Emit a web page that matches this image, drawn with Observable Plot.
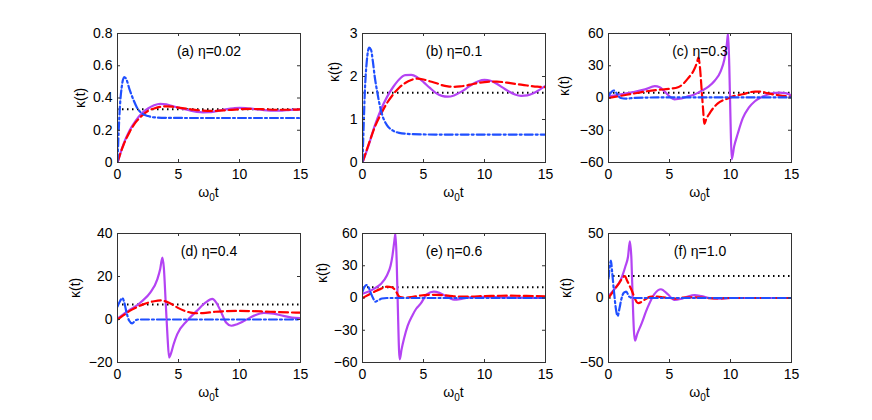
<!DOCTYPE html>
<html>
<head>
<meta charset="utf-8">
<script src="https://cdn.jsdelivr.net/npm/d3@7"></script>
<script src="https://cdn.jsdelivr.net/npm/@observablehq/plot@0.6"></script>
<style>
  html, body { margin: 0; padding: 0; background: #fff; }
  #wrap { position: relative; width: 872px; height: 420px; background: #fff; overflow: hidden; }
  #wrap > svg { position: absolute; }
</style>
</head>
<body>
<div id="wrap"></div>
<script>
// ---------- data (t = ω0 t, value = κ(t)) ----------
const xTicks = [0, 5, 10, 15];

const titles = ["(a) η=0.02", "(b) η=0.1", "(c) η=0.3", "(d) η=0.4", "(e) η=0.6", "(f) η=1.0"];
const yDomains = [[0, 0.8], [0, 3], [-60, 60], [-20, 40], [-60, 60], [-50, 50]];
const yTicksList = [
  [0, 0.2, 0.4, 0.6, 0.8],
  [0, 1, 2, 3],
  [-60, -30, 0, 30, 60],
  [-20, 0, 20, 40],
  [-60, -30, 0, 30, 60],
  [-50, 0, 50]
];
// black dotted levels
const dottedLevels = [0.33, 1.62, 5, 7, 10, 17];

// purple solid
const purpleA = [[0,0],[0.25,0.06],[0.5,0.115],[1,0.2],[1.5,0.26],[2,0.305],[2.5,0.335],[3,0.355],[3.5,0.364],[4,0.36],[4.5,0.35],[5,0.34],[5.5,0.33],[6,0.321],[6.5,0.314],[7,0.311],[7.5,0.312],[8,0.317],[8.5,0.324],[9,0.331],[9.5,0.336],[10,0.339],[10.5,0.338],[11,0.334],[11.5,0.329],[12,0.325],[12.5,0.322],[13,0.321],[13.5,0.322],[14,0.325],[14.5,0.328],[15,0.33]];
const purpleB = [[0,0],[0.5,0.4],[1,0.85],[1.5,1.22],[2,1.52],[2.5,1.75],[3,1.93],[3.5,2.03],[4,2.04],[4.5,1.98],[5,1.87],[5.5,1.74],[6,1.62],[6.5,1.55],[7,1.53],[7.5,1.56],[8,1.63],[8.5,1.72],[9,1.82],[9.5,1.89],[10,1.92],[10.5,1.9],[11,1.83],[11.5,1.74],[12,1.65],[12.5,1.58],[13,1.55],[13.5,1.56],[14,1.61],[14.5,1.69],[15,1.78]];
const purpleC = [[0,1.5],[1,3.5],[2,5.5],[3,8],[3.8,11],[4.2,10],[4.6,6],[5,1.5],[5.4,-1.2],[6,-0.5],[6.5,1.5],[7,3],[7.6,6.5],[8.2,10.5],[8.7,16],[9.2,25],[9.5,36],[9.7,50],[9.8,60],[9.9,30],[10,-20],[10.1,-57],[10.3,-45],[10.6,-33],[11,-19],[11.5,-9],[12,-3],[12.5,0.5],[13,3],[13.5,4.5],[14,5],[14.5,4.5],[15,2.5]];
const purpleD = [[0,0.5],[0.5,2.5],[1,4.5],[1.4,5.8],[2,8.5],[2.7,12.6],[3.27,18.8],[3.5,23.5],[3.68,28.8],[3.8,24],[3.95,8],[4.1,-8],[4.23,-17.7],[4.4,-15.5],[4.6,-11.5],[4.9,-6.8],[5.7,-0.6],[6.5,4],[7.2,7.8],[7.77,9.6],[8.1,7.8],[8.45,4],[8.9,-1.4],[9.33,-2.9],[9.8,-2.2],[10.4,-0.6],[11.2,1.8],[12,3.1],[12.8,2.7],[13.6,1.7],[14.3,0.9],[15,0.6]];
const purpleE = [[0,4],[0.5,6],[1,9],[1.5,13],[2,21],[2.3,30],[2.45,39],[2.6,52],[2.7,60],[2.8,35],[2.9,-10],[3,-50],[3.05,-57],[3.2,-48],[3.4,-38],[3.7,-26],[4.1,-16],[4.4,-10],[4.75,-5.5],[5.3,3.7],[5.85,6],[6.3,4.8],[6.8,2],[7.2,-0.5],[7.5,-1.5],[8,-1],[8.5,0],[9,0.8],[10,1],[11,0.8],[12,0.5],[13,0.3],[15,0]];
const purpleF = [[0,1.5],[0.5,7],[1,14],[1.4,25],[1.6,32],[1.75,44],[1.88,30],[1.98,0],[2.08,-25],[2.17,-33],[2.35,-28],[2.66,-21],[3.2,-7.5],[3.76,3],[4.3,6.8],[4.85,3],[5.4,-1.5],[5.9,-0.8],[6.5,1.2],[7.05,2.2],[7.6,1.5],[8.3,0],[9,-0.5],[10,0],[15,0]];

// red dashed
const redA = [[0,0],[0.25,0.06],[0.5,0.11],[1,0.19],[1.5,0.25],[2,0.29],[2.5,0.32],[3,0.335],[3.5,0.345],[4,0.348],[4.5,0.346],[5,0.34],[6,0.33],[7,0.322],[8,0.32],[9,0.325],[10,0.33],[11,0.332],[12,0.33],[13,0.327],[14,0.327],[15,0.33]];
const redB = [[0,0],[0.5,0.42],[1,0.82],[1.5,1.12],[2,1.38],[2.5,1.58],[3,1.74],[3.5,1.85],[4,1.92],[4.5,1.95],[5,1.93],[5.5,1.89],[6,1.85],[6.5,1.8],[7,1.77],[7.5,1.76],[8,1.77],[8.5,1.79],[9,1.82],[9.5,1.85],[10,1.87],[10.5,1.88],[11,1.88],[11.5,1.87],[12,1.85],[12.5,1.83],[13,1.81],[13.5,1.79],[14,1.77],[14.5,1.76],[15,1.75]];
const redC = [[0,0],[1,2],[2,4],[3,6],[4,7.5],[5,8.5],[5.7,10],[6.1,13],[6.5,18],[7.04,27],[7.25,33],[7.37,37.5],[7.5,28],[7.62,10],[7.75,-10],[7.86,-24],[8,-20],[8.3,-14],[8.96,-5],[9.4,-2],[9.78,-0.5],[10.2,1.5],[11,3.5],[12,6],[12.5,6],[13,4.5],[14,2.5],[15,1]];
const redD = [[0,0],[0.5,2],[1,4],[1.5,5.5],[2,6.8],[2.5,7.8],[3,8.5],[3.6,8.9],[4,8.3],[4.5,7],[5,5.3],[5.5,4],[6,3.2],[6.5,2.9],[7,3],[8,3.6],[9,3.9],[10,4],[11,3.9],[12,3.7],[13,3.5],[14,3.3],[15,3.2]];
const redE = [[0,0],[0.5,3],[1,6],[1.5,8.5],[2,10.5],[2.4,10],[2.7,7],[2.9,3],[3.1,0.8],[3.5,0.3],[4,0.8],[4.6,2],[5.3,3],[6,3],[7,2.2],[8,1.2],[9,1.4],[10,1.8],[11,2],[12,2.2],[13,2],[14,1.8],[15,1.5]];
const redF = [[0,0],[0.3,4],[0.6,8],[0.9,12],[1.2,16],[1.35,17],[1.5,14],[1.7,10],[1.9,6],[2.1,1],[2.3,-3],[2.45,-4],[2.7,-3],[3,-1],[3.5,1],[4,1],[4.5,0.5],[5,0],[5.5,-0.5],[6,0.3],[7,0.5],[8,0],[9,-0.3],[10,0],[15,0]];

// blue dash-dot
const blueA = [[0,0],[0.1,0.2],[0.2,0.35],[0.35,0.47],[0.55,0.53],[0.7,0.52],[1,0.45],[1.3,0.39],[1.6,0.34],[2,0.305],[2.5,0.288],[3,0.28],[4,0.277],[6,0.276],[10,0.276],[15,0.276]];
const blueB = [[0,0],[0.1,0.9],[0.2,1.7],[0.35,2.35],[0.55,2.67],[0.7,2.62],[0.85,2.35],[1,2],[1.2,1.65],[1.4,1.35],[1.6,1.12],[1.8,0.97],[2,0.87],[2.5,0.74],[3,0.69],[4,0.66],[6,0.65],[15,0.65]];
const blueC = [[0,2],[0.2,5],[0.4,7],[0.6,5.5],[0.8,2],[1,0],[1.5,-0.5],[2,0],[4,0.5],[15,0.5]];
const blueD = [[0,6],[0.2,8.5],[0.4,10],[0.55,8],[0.75,3],[0.95,-0.5],[1.2,-1.8],[1.45,-0.5],[1.7,0],[3,0],[15,0]];
const blueE = [[0,6],[0.15,10],[0.3,12],[0.5,10],[0.7,4],[0.9,-1],[1.05,-3.5],[1.3,-2],[1.6,-0.5],[2,0],[15,0]];
const blueF = [[0,15],[0.1,24],[0.2,29],[0.3,20],[0.45,5],[0.6,-8],[0.75,-14],[0.9,-8],[1.05,-1],[1.25,4],[1.45,5],[1.7,1],[2,0],[15,0]];

const purples = [purpleA, purpleB, purpleC, purpleD, purpleE, purpleF];
const reds = [redA, redB, redC, redD, redE, redF];
const blues = [blueA, blueB, blueC, blueD, blueE, blueF];

// ---------- layout ----------
const FONT = "'Liberation Sans', Arial, Helvetica, sans-serif";
const W = 243, H = 187, ML = 50, MR = 10, MT = 10, MB = 48;
const FW = W - ML - MR, FH = H - MT - MB;
const colLeft = [67, 312, 558];
const rowTop = [23, 223];
const yLabelDx = [-37, -28, -44, -42, -40, -42];
const yLabelDy = [10, -16, -2, 0, -15, 0];
const C_PURPLE = "#b443f3", C_RED = "#ff0000", C_BLUE = "#1f4fff", C_FRAME = "#333";

const fmt = d => d < 0 ? "\u2212" + Math.abs(d) : String(d);
const wrap = document.getElementById("wrap");

for (let i = 0; i < 6; i++) {
  const yTicks = yTicksList[i];
  const lineOpts = {x: d => d[0], y: d => d[1], curve: "monotone-x", clip: true};
  const svg = Plot.plot({
    width: W, height: H,
    marginLeft: ML, marginRight: MR, marginTop: MT, marginBottom: MB,
    style: {fontFamily: FONT, fontSize: "14px", background: "transparent", color: "#000", overflow: "visible"},
    x: {domain: [0, 15]},
    y: {domain: yDomains[i]},
    marks: [
      Plot.ruleY([dottedLevels[i]], {stroke: "#000", strokeWidth: 2, strokeDasharray: "1.5,3.5"}),
      Plot.line(purples[i], {...lineOpts, stroke: C_PURPLE, strokeWidth: 2.2}),
      Plot.line(reds[i], {...lineOpts, stroke: C_RED, strokeWidth: 2.2, strokeDasharray: "9,4"}),
      Plot.line(blues[i], {...lineOpts, stroke: C_BLUE, strokeWidth: 2.2, strokeDasharray: "8,3,2,3"}),
      Plot.frame({stroke: C_FRAME, strokeWidth: 1}),
      Plot.tickX(xTicks, {x: d => d, insetTop: FH - 3, stroke: C_FRAME}),
      Plot.tickX(xTicks, {x: d => d, insetBottom: FH - 3, stroke: C_FRAME}),
      Plot.tickY(yTicks, {y: d => d, insetLeft: FW - 3, stroke: C_FRAME}),
      Plot.tickY(yTicks, {y: d => d, insetRight: FW - 3, stroke: C_FRAME}),
      Plot.axisX({ticks: xTicks, tickSize: 0, tickPadding: 7, label: null, tickFormat: fmt, fontSize: 14}),
      Plot.axisY({ticks: yTicks, tickSize: 0, tickPadding: 5, label: null, tickFormat: fmt, fontSize: 14}),
      Plot.text([titles[i]], {frameAnchor: "top", dy: 13, text: d => d, fontSize: 14}),
      Plot.text(["κ(t)"], {frameAnchor: "left", dx: yLabelDx[i], dy: yLabelDy[i], rotate: -90, text: d => d, fontSize: 14})
    ]
  });
  // x-axis label ω0t with subscript
  const lab = d3.select(svg).append("text")
    .attr("x", ML + FW / 2).attr("y", MT + FH + 35)
    .attr("text-anchor", "middle")
    .attr("font-family", FONT).attr("font-size", 14).attr("fill", "#000");
  lab.append("tspan").text("ω");
  lab.append("tspan").attr("font-size", 10).attr("dy", 4).text("0");
  lab.append("tspan").attr("dy", -4).text("t");

  svg.style.left = colLeft[i % 3] + "px";
  svg.style.top = rowTop[Math.floor(i / 3)] + "px";
  wrap.appendChild(svg);
}
</script>
</body>
</html>
